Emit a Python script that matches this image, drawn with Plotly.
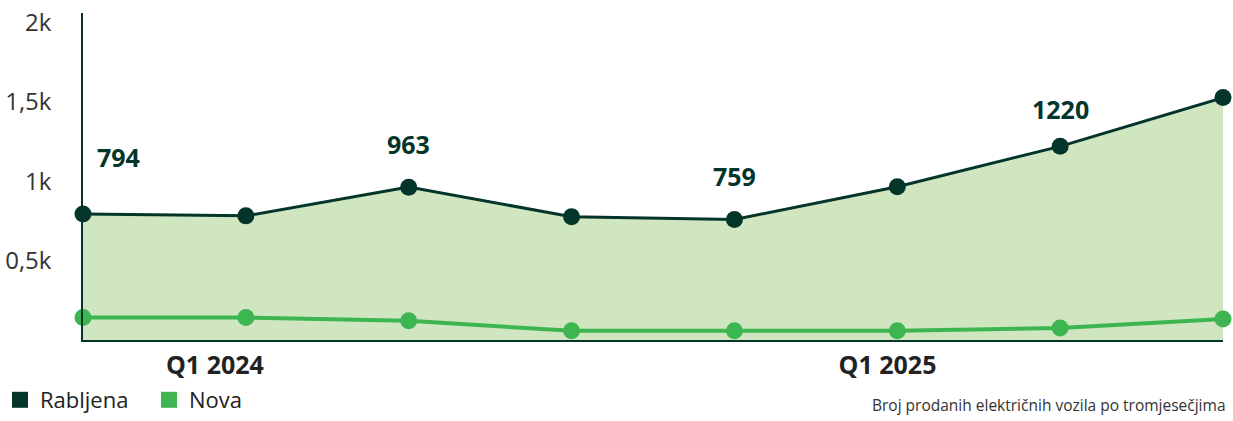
import plotly.graph_objects as go

quarters = ["Q4 2023", "Q1 2024", "Q2 2024", "Q3 2024", "Q4 2024", "Q1 2025", "Q2 2025", "Q3 2025"]
rabljena = [794, 782, 963, 777, 759, 965, 1220, 1527]
nova = [142, 142, 121, 58, 58, 58, 75, 132]
label_idx = [0, 2, 4, 6]
tick_labels = ["Q1 2024", "Q1 2025"]
tick_pos = [0.81, 4.94]
y_ticks = [500, 1000, 1500, 2000]
y_tick_text = ["0,5k", "1k", "1,5k", "2k"]

DARK = "#04352b"
GREEN = "#3db651"
FILL = "#d0e6c1"

x = list(range(len(quarters)))

fig = go.Figure()
fig.add_trace(go.Scatter(
    x=x, y=rabljena, mode="lines+markers", fill="tozeroy", fillcolor=FILL,
    line=dict(color=DARK, width=3), marker=dict(color=DARK, size=17),
    name="Rabljena", showlegend=False, cliponaxis=False,
    customdata=quarters, hovertemplate="%{customdata}: %{y}<extra>Rabljena</extra>"))
fig.add_trace(go.Scatter(
    x=x, y=nova, mode="lines+markers",
    line=dict(color=GREEN, width=4), marker=dict(color=GREEN, size=17),
    name="Nova", showlegend=False, cliponaxis=False,
    customdata=quarters, hovertemplate="%{customdata}: %{y}<extra>Nova</extra>"))
# legend entries
for nm, col in [("Rabljena", DARK), ("Nova", GREEN)]:
    fig.add_trace(go.Scatter(x=[None], y=[None], mode="markers", name=nm,
                             marker=dict(symbol="square", size=17, color=col)))

yshifts = [57, 43, 44, 37]
xshifts = [35, 0, 0, 0]
for k, i in enumerate(label_idx):
    fig.add_annotation(x=x[i], y=rabljena[i], text=f"<b>{rabljena[i]}</b>", showarrow=False,
                       yshift=yshifts[k], xshift=xshifts[k],
                       font=dict(family="Open Sans", size=25, color=DARK))

fig.add_annotation(xref="paper", yref="paper", x=1.0, y=-0.2, xanchor="right", yanchor="middle",
                   xshift=5,
                   text="Broj prodanih električnih vozila po tromjesečjima", showarrow=False,
                   font=dict(family="Open Sans", size=15.5, color="#333333"))

fig.update_layout(
    width=1233, height=421,
    margin=dict(l=83, r=10, t=13, b=81, autoexpand=False),
    plot_bgcolor="white", paper_bgcolor="white",
    font=dict(family="Open Sans", color="#333333"),
    showlegend=True,
    legend=dict(orientation="h", xref="container", yref="container", x=0, y=0,
                xanchor="left", yanchor="bottom",
                font=dict(size=22, color="#222222"), itemwidth=30, tracegroupgap=0,
                entrywidth=104, entrywidthmode="pixels",
                bgcolor="rgba(0,0,0,0)"),
    xaxis=dict(range=[0, 7], showgrid=False, zeroline=False, automargin=False,
               tickmode="array", tickvals=tick_pos, ticktext=[f"<b>{t}</b>" for t in tick_labels],
               tickfont=dict(size=25, color="#222222"), ticks="", showline=True,
               linecolor=DARK, linewidth=1.5, ticklabelstandoff=2),
    yaxis=dict(range=[0, 2060], showgrid=False, zeroline=False, automargin=False,
               tickmode="array", tickvals=y_ticks, ticktext=y_tick_text,
               tickfont=dict(size=24, color="#333333"), ticks="", showline=True,
               linecolor=DARK, linewidth=1.5, ticklabelstandoff=25),
)

fig.write_html("out.html", config={"displayModeBar": False},
               post_script="document.body.style.margin='0';")
